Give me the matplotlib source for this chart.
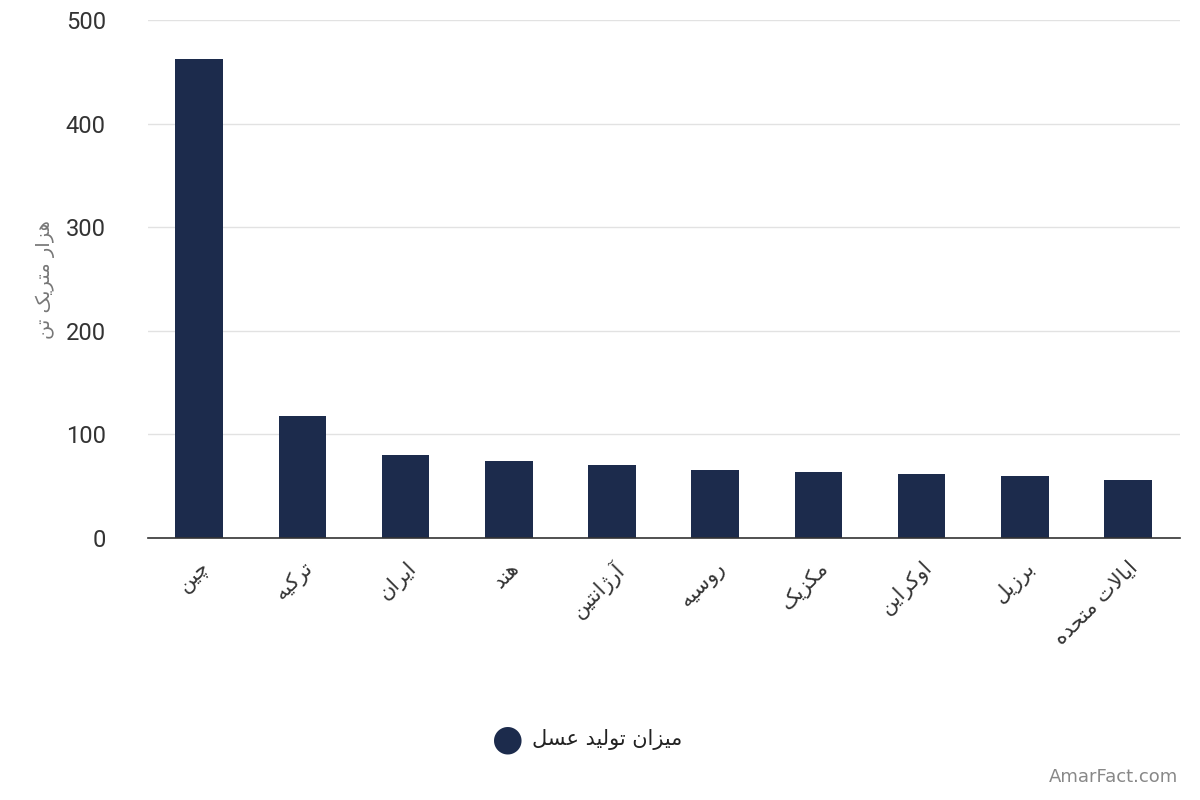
import matplotlib
matplotlib.use("Agg")
import matplotlib.pyplot as plt

countries = ["چین", "ترکیه", "ایران", "هند", "آرژانتین", "روسیه",
             "مکزیک", "اوکراین", "برزیل", "ایالات متحده"]
production = [462, 118, 80, 74, 70, 66, 64, 62, 60, 56]
y_ticks = [0, 100, 200, 300, 400, 500]
series_name = "میزان تولید عسل"
y_label = "هزار متریک تن"

BAR = "#1c2b4c"
INK = "#333333"
GRID = "#e2e2e2"

# (isolated, final, initial, medial); two-form letters do not join forward
FORMS = {
    "ا": (0xFE8D, 0xFE8E), "آ": (0xFE81, 0xFE82),
    "ب": (0xFE8F, 0xFE90, 0xFE91, 0xFE92), "ت": (0xFE95, 0xFE96, 0xFE97, 0xFE98),
    "چ": (0xFB7A, 0xFB7B, 0xFB7C, 0xFB7D), "ح": (0xFEA1, 0xFEA2, 0xFEA3, 0xFEA4),
    "د": (0xFEA9, 0xFEAA), "ر": (0xFEAD, 0xFEAE), "ز": (0xFEAF, 0xFEB0),
    "ژ": (0xFB8A, 0xFB8B), "س": (0xFEB1, 0xFEB2, 0xFEB3, 0xFEB4),
    "ع": (0xFEC9, 0xFECA, 0xFECB, 0xFECC), "ک": (0xFB8E, 0xFB8F, 0xFB90, 0xFB91),
    "ل": (0xFEDD, 0xFEDE, 0xFEDF, 0xFEE0), "م": (0xFEE1, 0xFEE2, 0xFEE3, 0xFEE4),
    "ن": (0xFEE5, 0xFEE6, 0xFEE7, 0xFEE8), "ه": (0xFEE9, 0xFEEA, 0xFEEB, 0xFEEC),
    "و": (0xFEED, 0xFEEE), "ی": (0xFBFC, 0xFBFD, 0xFBFE, 0xFBFF),
    "لا": (0xFEFB, 0xFEFC),
}


def shape(text):
    chars = []
    i = 0
    while i < len(text):
        if text[i] == "ل" and i + 1 < len(text) and text[i + 1] == "ا":
            chars.append("لا")
            i += 2
        else:
            chars.append(text[i])
            i += 1
    out = []
    for k, c in enumerate(chars):
        if c not in FORMS:
            out.append(c)
            continue
        prev = chars[k - 1] if k > 0 else None
        nxt = chars[k + 1] if k + 1 < len(chars) else None
        join_prev = prev in FORMS and len(FORMS[prev]) == 4
        join_next = nxt in FORMS and len(FORMS[c]) == 4
        f = FORMS[c]
        if join_prev and join_next:
            code = f[3]
        elif join_prev:
            code = f[1]
        elif join_next:
            code = f[2]
        else:
            code = f[0]
        out.append(chr(code))
    return "".join(reversed(out))


plt.rcParams["font.family"] = ["DejaVu Sans"]

fig = plt.figure(figsize=(12, 8), dpi=100)
ax = fig.add_axes([0.123, 0.3275, 0.86, 0.6475])
x = range(len(countries))
ax.bar(x, production, width=0.46, color=BAR, zorder=2)
ax.set_xlim(-0.5, len(countries) - 0.5)
ax.set_ylim(0, 500)
ax.set_yticks(y_ticks)
ax.set_yticklabels([str(v) for v in y_ticks], fontsize=17, color=INK,
                   family=["Roboto", "DejaVu Sans"])
ax.yaxis.grid(True, color=GRID, linewidth=1, zorder=0)
ax.tick_params(axis="y", length=0, pad=30)
ax.tick_params(axis="x", length=0, pad=14)
ax.set_xticks(list(x))
ax.set_xticklabels([shape(c) for c in countries], rotation=45, ha="right",
                   rotation_mode="anchor", fontsize=15, color=INK)
for s in ("top", "right", "left"):
    ax.spines[s].set_visible(False)
ax.spines["bottom"].set_color("#333333")
ax.spines["bottom"].set_linewidth(1.2)

fig.text(0.038, 0.65, shape(y_label), rotation=90, ha="center", va="center",
         fontsize=14, color="#777777")

# legend: circle marker + series name
fig.text(0.423, 0.075, "\u25CF", ha="center", va="center", fontsize=26, color=BAR)
fig.text(0.443, 0.075, shape(series_name), ha="left", va="center",
         fontsize=15, color="#222222")

fig.text(0.982, 0.018, "AmarFact.com", ha="right", va="bottom",
         fontsize=13, color="#888888")

fig.savefig("out.png", dpi=100)
